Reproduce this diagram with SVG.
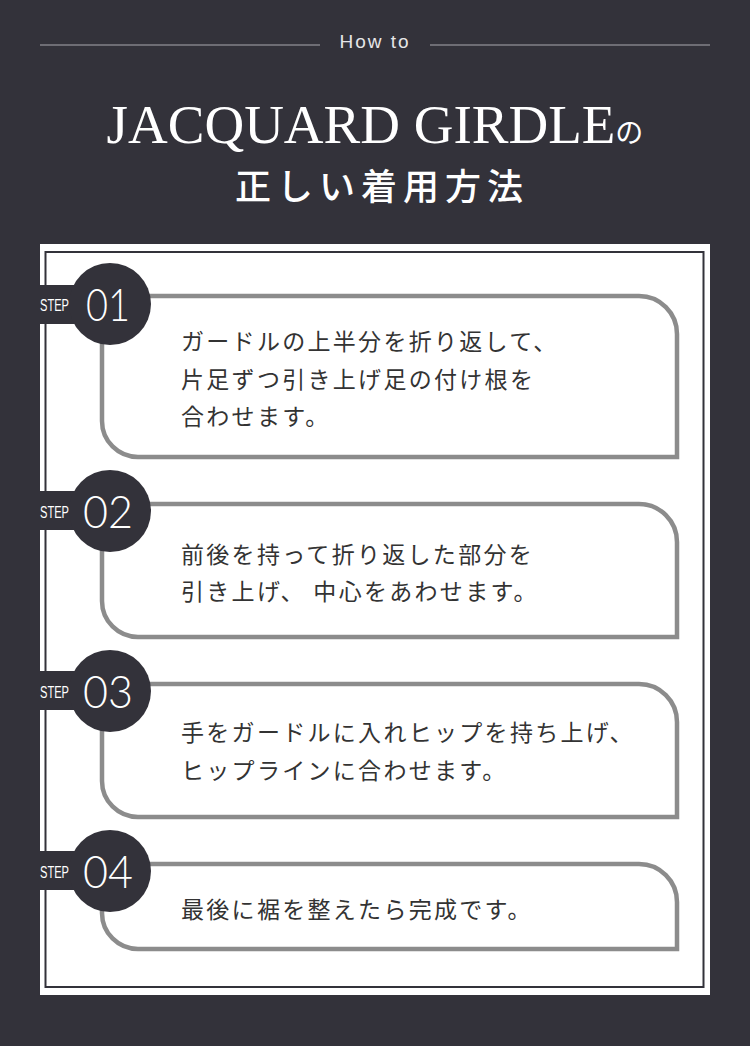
<svg xmlns="http://www.w3.org/2000/svg" width="750" height="1046" viewBox="0 0 750 1046">
  <style>
    .box { fill: #ffffff; stroke: #8c8c8c; stroke-width: 4.5; }
    .band { fill: #33323a; }
    .circ { fill: #33323a; }
    .step { font-family: "Liberation Sans", "DejaVu Sans", sans-serif; font-size: 16px; fill: #ffffff; }
    .num { font-family: Lato, "Liberation Sans", sans-serif; font-weight: 300; font-size: 46px; fill: #ffffff; }
    .body { font-family: "Noto Sans CJK JP", "Noto Sans", sans-serif; font-size: 23px; letter-spacing: 2.3px; fill: #333333; }
  </style>
  <rect x="0" y="0" width="750" height="1046" fill="#33323a"/>

  <g id="header">
    <line x1="40" y1="45" x2="320" y2="45" stroke="#a9a8ad" stroke-width="1.2"/>
    <line x1="430" y1="45" x2="710" y2="45" stroke="#a9a8ad" stroke-width="1.2"/>
    <text x="375" y="48" text-anchor="middle" font-family="'Liberation Sans', sans-serif" font-size="19" letter-spacing="2" fill="#e6e6e8">How to</text>
    <text x="375" y="143" text-anchor="middle" font-family="'Liberation Serif', serif" font-size="55" fill="#ffffff">JACQUARD GIRDLE<tspan font-family="'Noto Sans CJK JP', sans-serif" font-size="28">の</tspan></text>
    <text x="382" y="200" text-anchor="middle" font-family="'Noto Sans CJK JP', sans-serif" font-size="36" font-weight="500" letter-spacing="6" fill="#ffffff">正しい着用方法</text>
  </g>

  <g id="panel">
    <rect x="40" y="244" width="670" height="751" fill="#ffffff"/>
    <rect x="45.5" y="252" width="658" height="735" fill="none" stroke="#33323a" stroke-width="2"/>
  </g>

  <g id="step1">
    <path class="box" d="M102 296 H639 A38 38 0 0 1 677 334 V457 H138 A36 36 0 0 1 102 421 Z"/>
    <rect class="band" x="36" y="285" width="60" height="39"/>
    <circle class="circ" cx="110" cy="304" r="41"/>
    <text class="step" x="40" y="311" textLength="29" lengthAdjust="spacingAndGlyphs">STEP</text>
    <text class="num" x="86" y="321" textLength="44" lengthAdjust="spacingAndGlyphs">01</text>
    <text class="body" x="181" y="350">ガードルの上半分を折り返して、</text>
    <text class="body" x="181" y="388">片足ずつ引き上げ足の付け根を</text>
    <text class="body" x="181" y="425">合わせます。</text>
  </g>

  <g id="step2">
    <path class="box" d="M102 504 H639 A38 38 0 0 1 677 542 V637 H138 A36 36 0 0 1 102 601 Z"/>
    <rect class="band" x="36" y="491" width="60" height="39"/>
    <circle class="circ" cx="110" cy="511" r="41"/>
    <text class="step" x="40" y="518" textLength="29" lengthAdjust="spacingAndGlyphs">STEP</text>
    <text class="num" x="83" y="528" textLength="50" lengthAdjust="spacingAndGlyphs">02</text>
    <text class="body" x="181" y="563">前後を持って折り返した部分を</text>
    <text class="body" x="181" y="600">引き上げ、 中心をあわせます。</text>
  </g>

  <g id="step3">
    <path class="box" d="M102 684 H639 A38 38 0 0 1 677 722 V817 H138 A36 36 0 0 1 102 781 Z"/>
    <rect class="band" x="36" y="671" width="60" height="39"/>
    <circle class="circ" cx="110" cy="691" r="41"/>
    <text class="step" x="40" y="698" textLength="29" lengthAdjust="spacingAndGlyphs">STEP</text>
    <text class="num" x="83" y="708" textLength="50" lengthAdjust="spacingAndGlyphs">03</text>
    <text class="body" x="181" y="741">手をガードルに入れヒップを持ち上げ、</text>
    <text class="body" x="181" y="779">ヒップラインに合わせます。</text>
  </g>

  <g id="step4">
    <path class="box" d="M102 864 H639 A38 38 0 0 1 677 902 V949 H138 A36 36 0 0 1 102 913 Z"/>
    <rect class="band" x="36" y="851" width="60" height="39"/>
    <circle class="circ" cx="110" cy="871" r="41"/>
    <text class="step" x="40" y="878" textLength="29" lengthAdjust="spacingAndGlyphs">STEP</text>
    <text class="num" x="83" y="888" textLength="50" lengthAdjust="spacingAndGlyphs">04</text>
    <text class="body" x="181" y="918">最後に裾を整えたら完成です。</text>
  </g>

  <g id="connectors"></g>
</svg>
